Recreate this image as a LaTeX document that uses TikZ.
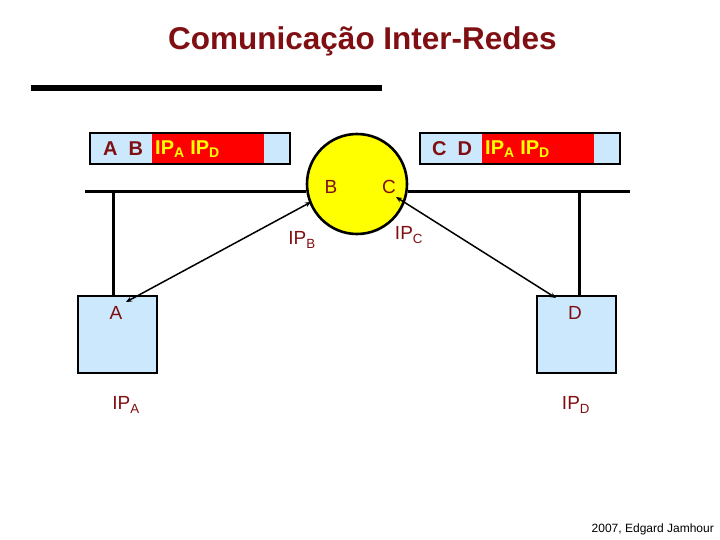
\documentclass[tikz,border=0pt]{standalone}
\usepackage{fontspec}
\setmainfont{Liberation Sans}
\usetikzlibrary{arrows.meta}
\definecolor{dred}{HTML}{7F0F12}
\definecolor{lblue}{HTML}{CCE8FC}
\definecolor{ylw}{HTML}{FFFF00}
\begin{document}
\begin{tikzpicture}[x=1pt,y=-1pt,
  lbl/.style={text=dred,font=\fontsize{19}{19}\selectfont,inner sep=0pt},
  frametxt/.style={text=dred,font=\bfseries\fontsize{20}{20}\selectfont,inner sep=0pt},
  iptxt/.style={text=ylw,font=\bfseries\fontsize{20}{20}\selectfont,inner sep=0pt},
  host/.style={draw=black,line width=2.6pt,fill=lblue},
  wire/.style={line width=3pt},
  link/.style={line width=1.5pt,{Stealth[length=6pt,width=5pt]}-{Stealth[length=6pt,width=5pt]}}]
\useasboundingbox (0,0) rectangle (720,540);
% title
\node (title) [text=dred,font=\bfseries\fontsize{31.5}{31.5}\selectfont,inner sep=0pt] at (362.5,41) {Comunicação Inter-Redes};
\draw[line width=6pt] (31,88) -- (382,88);
% frames
\draw[host] (90,133) rectangle (290,164);
\fill[red] (152,134.3) rectangle (264,162.7);
\draw[line width=2.6pt] (90,133) rectangle (290,164);
\node (fab) [frametxt,anchor=west] at (103,149) {A\ \ B};
\node (fipl) [iptxt,anchor=west] at (155,149.5) {IP\textsubscript{A} IP\textsubscript{D}};
\draw[host] (420,133) rectangle (620,164);
\fill[red] (482,134.3) rectangle (594,162.7);
\draw[line width=2.6pt] (420,133) rectangle (620,164);
\node (fcd) [frametxt,anchor=west] at (432,149) {C\ \ D};
\node (fipr) [iptxt,anchor=west] at (485,149.5) {IP\textsubscript{A} IP\textsubscript{D}};
% networks
\coordinate (l1) at (85,192);
\coordinate (r2) at (630,192);
\coordinate (ta) at (113,192);
\coordinate (td) at (579,192);
\node (rt) [circle,draw=black,line width=2.6pt,fill=ylw,minimum size=100pt,inner sep=0pt] at (357,184) {};
\draw[wire] (l1) -- (rt.west |- l1);
\draw[wire] (rt.east |- r2) -- (r2);
\node (A) [host,minimum width=79pt,minimum height=77pt,inner sep=0pt] at (117.5,334.5) {};
\node (D) [host,minimum width=79pt,minimum height=77pt,inner sep=0pt] at (576.5,334.5) {};
\draw[wire] (ta) -- (ta |- A.north);
\draw[wire] (td) -- (td |- D.north);
% labels
\node (lA) [lbl] at (116,313) {A};
\node (lD) [lbl] at (575,313) {D};
\node (lB) [lbl] at (331,187) {B};
\node (lC) [lbl] at (389,187) {C};
\node (ipA) [lbl] at (126,405) {IP\textsubscript{A}};
\node (ipD) [lbl] at (576,405) {IP\textsubscript{D}};
\node (ipB) [lbl] at (302,240) {IP\textsubscript{B}};
\node (ipC) [lbl] at (409,235) {IP\textsubscript{C}};
% links
\coordinate (pA) at (126,302);
\coordinate (pB) at (311,202);
\coordinate (pC) at (396,197);
\coordinate (pD) at (556,298);
\draw[link] (pA) -- (pB);
\draw[link] (pC) -- (pD);
\node (foot) [font=\fontsize{12}{12}\selectfont,anchor=east,inner sep=0pt] at (714,529) {2007, Edgard Jamhour};
\end{tikzpicture}
\end{document}
